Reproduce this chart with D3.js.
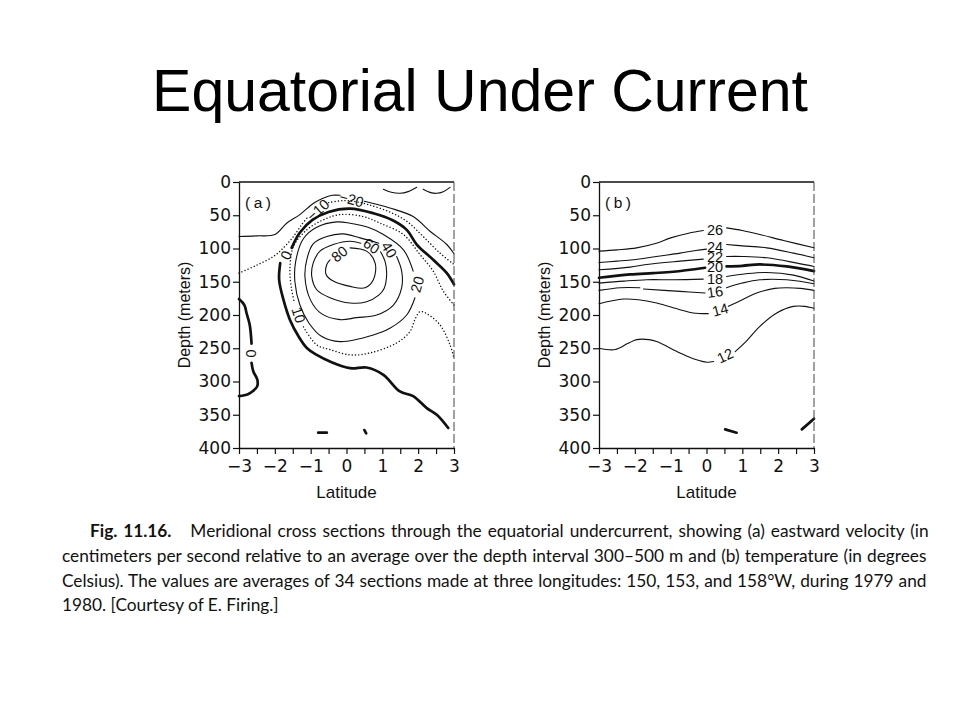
<!DOCTYPE html>
<html><head><meta charset="utf-8">
<script src="https://cdn.jsdelivr.net/npm/d3@7"></script>
<style>body{margin:0;background:#fff}</style></head>
<body>
<svg id="c" width="960" height="720"></svg>
<script>
// ---------- data ----------
const titleText = "Equatorial Under Current";
const latTicks = [-3,-2.5,-2,-1.5,-1,-0.5,0,0.5,1,1.5,2,2.5,3];
const depthTicks = [0,50,100,150,200,250,300,350,400];

// Panel (a): eastward velocity contours, [latitude, depth]
const uSurfA = [[1.03,11],[1.25,15.5],[1.49,17],[1.72,14.5],[1.96,8]];
const uSurfB = [[2.14,11],[2.35,16],[2.51,17],[2.7,14.5],[2.89,8]];
const uM20a = [[-3,82],[-2.5,81],[-2.0,79],[-1.67,62],[-1.3,49],[-0.92,32],[-0.64,24],[-0.4,20],[-0.18,20]];
const uM20b = [[0.5,29],[1.21,39],[1.86,52],[2.33,74],[2.8,94],[3,108]];
const uM10a = [[-3,137],[-2.5,125],[-2.04,112],[-1.76,99],[-1.48,82],[-1.25,64],[-1.1,54]];
const uM10b = [[-0.5,31],[-0.1,28],[0.3,30],[0.61,34],[1.2,45],[1.68,59],[2.14,82],[2.61,107],[3,124]];
const u0a = [[-1.53,99],[-1.3,76],[-0.95,57],[-0.5,45],[0.1,40],[0.75,47],[1.3,58],[1.68,72],[1.96,94],[2.42,117],[2.8,137],[3,154]];
const u0b = [[-1.85,122],[-1.88,147],[-1.76,177],[-1.58,207],[-1.34,232],[-1.1,250],[-0.83,260],[-0.46,270],[0.1,280],[0.56,279],[1.03,290],[1.49,315],[1.86,322],[2.24,340],[2.52,350],[2.84,370]];
const u0c = [[-3,176],[-2.85,185],[-2.79,197],[-2.7,215],[-2.65,243]];
const u0d = [[-2.65,272],[-2.6,285],[-2.49,297],[-2.49,307],[-2.6,314],[-2.75,319],[-3,322]];
const u10a = [[3,185],[2.7,164],[2.42,134],[2.05,109],[1.59,79],[0.94,62],[0.47,52],[-0.18,49],[-0.65,57],[-1.11,72],[-1.48,97],[-1.58,132],[-1.53,162],[-1.45,182]];
const u10b = [[-1.2,218],[-0.83,245],[-0.46,252],[0.1,260],[0.66,257],[1.4,242],[1.77,225],[1.9,208],[2.05,195],[2.24,198],[2.61,215],[2.89,245],[3,265]];
const u20 = [[1.91,174],[1.68,200],[1.21,220],[0.75,230],[-0.18,240],[-0.7,232],[-1.05,212],[-1.3,185],[-1.44,150],[-1.42,120],[-1.2,85],[-0.83,68],[-0.27,60],[0.1,62],[0.6,68],[1.03,79],[1.59,102],[1.86,134]];
const u40 = [[1.40,112],[1.54,134],[1.54,159],[1.31,185],[0.84,200],[0.28,204],[-0.18,207],[-0.7,198],[-1.0,178],[-1.16,142],[-1.1,115],[-0.93,93],[-0.55,82],[-0.1,78],[0.38,84],[0.9,92]];
const u60 = [[0.95,105],[1.08,120],[1.12,140],[1.05,160],[0.9,170],[0.56,180],[0.1,182],[-0.46,174],[-0.83,162],[-0.97,142],[-0.93,122],[-0.74,104],[-0.37,94],[0.1,89],[0.4,92]];
const u80 = [[0.1,99],[0.56,104],[0.8,122],[0.75,147],[0.52,159],[0.1,157],[-0.37,149],[-0.57,139],[-0.55,124],[-0.46,117]];
const uMarkA = [[-0.79,377],[-0.55,377]];
const uMarkB = [[0.5,373],[0.55,378]];
const velLabels = [["−20",0.14,26,15],["−10",-0.8,42,-42],["0",-1.69,110,-65],["80",-0.2,108,-38],["60",0.7,96,35],["40",1.19,102,58],["20",1.97,154,-75],["10",-1.33,200,72],["0",-2.65,258,90]];

// Panel (b): temperature contours
const t26a = [[-3,104],[-2.5,102],[-1.95,99],[-1.4,92],[-1.0,84],[-0.5,77],[-0.09,73]];
const t26b = [[0.56,69],[1.0,73],[1.49,79],[2.15,88],[3,99]];
const t24a = [[-3,121],[-2.5,119],[-2.04,117],[-1.4,112],[-0.74,107],[-0.3,103],[0.0,101]];
const t24b = [[0.56,94],[1.0,96],[1.68,99],[2.43,107],[3,114]];
const t22a = [[-3,132],[-2.13,128],[-1.67,124],[-0.74,119],[-0.09,116]];
const t22b = [[0.56,112],[1.0,112],[1.68,114],[2.53,122],[3,127]];
const t20a = [[-3,144],[-2.13,139],[-1.5,137],[-0.93,135],[-0.04,129]];
const t20b = [[0.56,127],[1.0,126],[1.49,124],[2.24,127],[3,134]];
const t18a = [[-3,152],[-2.3,149],[-1.67,147],[-0.92,147],[-0.09,146]];
const t18b = [[0.56,142],[1.1,138],[1.68,136],[2.43,140],[3,149]];
const t16a = [[-3,163],[-2.41,159],[-1.86,159]];
const t16b = [[-1.76,161],[-0.74,164.5],[-0.04,167]];
const t16c = [[0.56,159],[1.0,152],[1.49,147],[2.24,147],[3,153]];
const t14a = [[-3,183],[-2.32,176],[-1.9,177],[-1.39,182],[-0.74,192],[-0.37,197],[0.05,198]];
const t14b = [[0.61,187],[1.0,177],[1.4,167],[1.9,160],[2.24,159],[2.62,160],[3,163]];
const t12a = [[-3,250],[-2.55,252],[-2.2,243],[-1.95,237],[-1.6,237],[-1.39,240],[-0.74,257],[-0.3,267],[0.01,271],[0.2,270]];
const t12b = [[0.8,255],[1.1,240],[1.49,217],[1.96,197],[2.42,187],[2.75,187],[3,190]];
const tMarkA = [[0.52,372],[0.84,377]];
const tMarkB = [[2.66,372],[3,356]];
const tempLabels = [["26",0.24,72,0],["24",0.24,98,0],["22",0.24,113,0],["20",0.24,128,0],["18",0.24,145,0],["16",0.24,165,-8],["14",0.38,192,-15],["12",0.52,261,-25]];

const captionLines = [
  ["Fig. 11.16.", "Meridional cross sections through the equatorial undercurrent, showing (a) eastward velocity (in"],
  ["", "centimeters per second relative to an average over the depth interval 300\u2013500 m and (b) temperature (in degrees"],
  ["", "Celsius). The values are averages of 34 sections made at three longitudes: 150, 153, and 158\u00b0W, during 1979 and"],
  ["", "1980. [Courtesy of E. Firing.]"]
];

// ---------- drawing ----------
const svg = d3.select("#c");
svg.append("rect").attr("width",960).attr("height",720).attr("fill","#fff");

svg.append("text").attr("x",480).attr("y",111).attr("text-anchor","middle")
  .attr("font-family","'Liberation Sans', Arial, sans-serif").attr("font-size",59)
  .attr("fill","#000").text(titleText);

const y = d3.scaleLinear().domain([0,400]).range([182,448]);
const fmt = d3.format("d");

const styles = {
  thin:  {w:1.1, dash:null},
  thick: {w:2.7, dash:null},
  dot:   {w:1.4, dash:"0.1,3.2"}
};

function panel(x0, x1, lines, labels, tag) {
  const x = d3.scaleLinear().domain([-3,3]).range([x0,x1]);
  const g = svg.append("g");
  const line = d3.line().x(d=>x(d[0])).y(d=>y(d[1])).curve(d3.curveCatmullRom.alpha(0.5));
  lines.forEach(L => {
    const s = styles[L.style];
    g.append("path").attr("d", line(L.pts)).attr("fill","none").attr("stroke","#111")
      .attr("stroke-width", s.w).attr("stroke-linecap","round").attr("stroke-linejoin","round")
      .attr("stroke-dasharray", s.dash);
  });
  labels.forEach(([t,la,de,r]) => {
    g.append("text").attr("transform",`translate(${x(la)},${y(de)}) rotate(${r})`)
      .attr("text-anchor","middle").attr("dy","0.36em")
      .attr("font-family","'Liberation Sans', Arial, sans-serif").attr("font-size",14.5)
      .attr("fill","#111").text(t);
  });
  g.append("line").attr("x1",x(-3)).attr("x2",x(3)).attr("y1",y(0)).attr("y2",y(0))
    .attr("stroke","#111").attr("stroke-width",1.3);
  g.append("line").attr("x1",x(3)).attr("x2",x(3)).attr("y1",y(0)).attr("y2",y(400))
    .attr("stroke","#444").attr("stroke-width",1).attr("stroke-dasharray","9,3");
  const ax = g.append("g").attr("transform",`translate(0,${y(400)})`)
    .call(d3.axisBottom(x).tickValues(latTicks).tickSize(6).tickSizeOuter(0).tickPadding(6)
      .tickFormat(d => Number.isInteger(d) ? fmt(d) : ""));
  const ay = g.append("g").attr("transform",`translate(${x(-3)},0)`)
    .call(d3.axisLeft(y).tickValues(depthTicks).tickSize(6).tickSizeOuter(0).tickPadding(2).tickFormat(fmt));
  [ax, ay].forEach(a => {
    a.selectAll("path.domain").attr("stroke","#111").attr("stroke-width",1.3);
    a.selectAll(".tick line").attr("stroke","#111").attr("stroke-width",1.2);
    a.selectAll(".tick text").attr("font-family","'DejaVu Sans', sans-serif").attr("font-size",17).attr("fill","#111");
  });
  const cx = (x0+x1)/2;
  g.append("text").attr("x",cx).attr("y",498).attr("text-anchor","middle")
    .attr("font-family","'Liberation Sans', Arial, sans-serif").attr("font-size",17).attr("fill","#111").text("Latitude");
  g.append("text").attr("transform",`translate(${x0-49},315) rotate(-90)`).attr("text-anchor","middle")
    .attr("font-family","'Liberation Sans', Arial, sans-serif").attr("font-size",16).attr("fill","#111").text("Depth (meters)");
  g.append("text").attr("x",x0+6).attr("y",208).attr("letter-spacing",3.5)
    .attr("font-family","'Liberation Sans', Arial, sans-serif").attr("font-size",15.5).attr("fill","#111").text(tag);
}

panel(239, 454, [
  {pts:uSurfA, style:"thin"}, {pts:uSurfB, style:"thin"},
  {pts:uM20a, style:"thin"}, {pts:uM20b, style:"thin"},
  {pts:uM10a, style:"dot"}, {pts:uM10b, style:"dot"},
  {pts:u0a, style:"thick"}, {pts:u0b, style:"thick"}, {pts:u0c, style:"thick"}, {pts:u0d, style:"thick"},
  {pts:u10a, style:"dot"}, {pts:u10b, style:"dot"},
  {pts:u20, style:"thin"}, {pts:u40, style:"thin"}, {pts:u60, style:"thin"}, {pts:u80, style:"thin"},
  {pts:uMarkA, style:"thick"}, {pts:uMarkB, style:"thick"}
], velLabels, "(a)");

panel(599, 814, [
  {pts:t26a, style:"thin"}, {pts:t26b, style:"thin"},
  {pts:t24a, style:"thin"}, {pts:t24b, style:"thin"},
  {pts:t22a, style:"thin"}, {pts:t22b, style:"thin"},
  {pts:t20a, style:"thick"}, {pts:t20b, style:"thick"},
  {pts:t18a, style:"thin"}, {pts:t18b, style:"thin"},
  {pts:t16a, style:"thin"}, {pts:t16b, style:"thin"}, {pts:t16c, style:"thin"},
  {pts:t14a, style:"thin"}, {pts:t14b, style:"thin"},
  {pts:t12a, style:"thin"}, {pts:t12b, style:"thin"},
  {pts:tMarkA, style:"thick"}, {pts:tMarkB, style:"thick"}
], tempLabels, "(b)");

// caption: one common font size so that every justified line fits, then word spacing
const capX = [90, 62, 62, 62];
const capY = [537, 562, 587, 611];
const capRight = 927;
const capNodes = captionLines.map((c, i) => {
  const t = svg.append("text").attr("x", capX[i]).attr("y", capY[i])
    .attr("font-family","Lato, 'Open Sans', sans-serif").attr("font-size",18.5).attr("fill","#111")
    .attr("xml:space","preserve");
  if (c[0]) {
    t.append("tspan").attr("font-weight","bold").text(c[0]);
    t.append("tspan").text("\u2003 " + c[1]);
  } else {
    t.append("tspan").text(c[1]);
  }
  return t;
});
function widthOf(t, i) { const b = t.node().getBBox(); return b.x + b.width - capX[i]; }
let fs = 18.5;
for (let i = 0; i < 3; i++) {
  const t = capNodes[i];
  const target = capRight - capX[i];
  const spaces = (captionLines[i][1].match(/ /g) || []).length + 1;
  t.attr("font-size", fs);
  while ((target - widthOf(t, i)) / spaces < 0.4 && fs > 13) { fs -= 0.1; t.attr("font-size", fs); }
}
capNodes.forEach((t, i) => {
  t.attr("font-size", fs.toFixed(2));
  if (i < 3) {
    const spaces = (captionLines[i][1].match(/ /g) || []).length + 1;
    const ws = (capRight - capX[i] - widthOf(t, i)) / spaces;
    t.attr("word-spacing", ws.toFixed(2));
  }
});
</script>
</body></html>
